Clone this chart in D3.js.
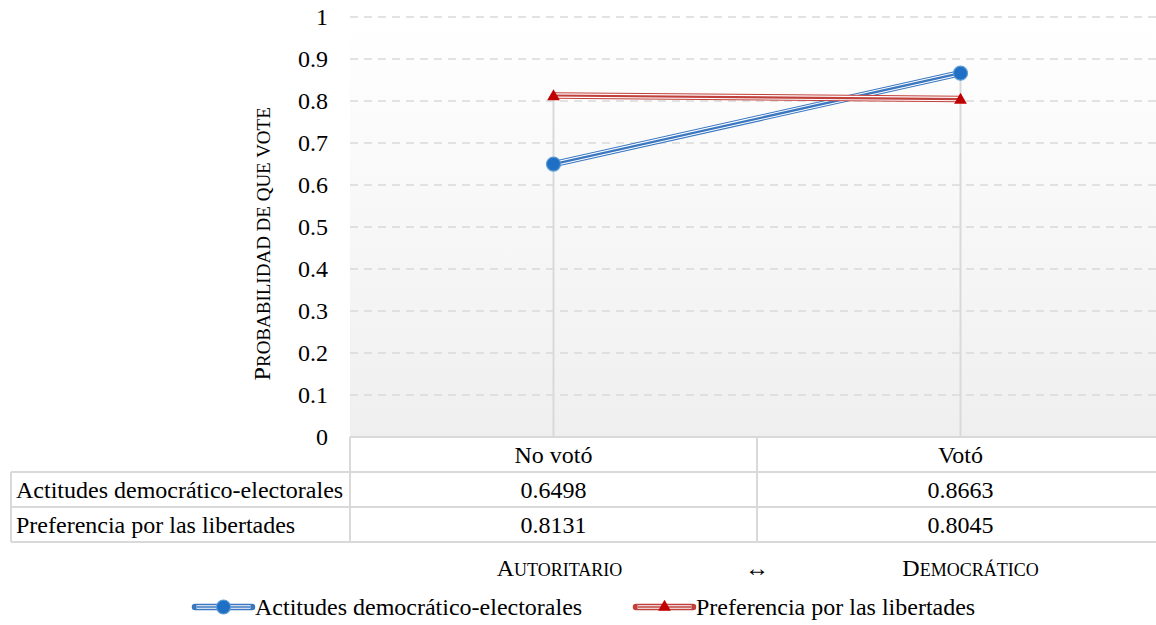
<!DOCTYPE html>
<html>
<head>
<meta charset="utf-8">
<script src="https://cdn.jsdelivr.net/npm/d3@7"></script>
<style>
  html, body { margin: 0; padding: 0; background: #fff; }
  #wrap { position: relative; width: 1156px; height: 625px; }
  #bg { position: absolute; background: linear-gradient(to bottom, #ffffff, #efefef); }
  #chart { position: absolute; left: 0; top: 0; }
  text { font-family: "Liberation Serif"; }
</style>
</head>
<body>
<div id="wrap"><div id="bg"></div><svg id="chart" width="1156" height="625"></svg></div>
<script>
// Voting outcome categories and the two predicted-probability series
const categories = ["No votó", "Votó"];
const seriesNames = ["Actitudes democrático-electorales", "Preferencia por las libertades"];
const actitudes = [0.6498, 0.8663];
const preferencia = [0.8131, 0.8045];
const yTicks = [0, 0.1, 0.2, 0.3, 0.4, 0.5, 0.6, 0.7, 0.8, 0.9, 1];
const tickLabels = ["0", "0.1", "0.2", "0.3", "0.4", "0.5", "0.6", "0.7", "0.8", "0.9", "1"];

const series = [
  { name: seriesNames[0], values: actitudes, line: "#3a77c0", marker: "#1f6fc4", shape: "circle" },
  { name: seriesNames[1], values: preferencia, line: "#c0403c", marker: "#c00000", shape: "triangle" }
];

const SERIF = "Liberation Serif";
const svg = d3.select("#chart");
const plot = { left: 350, right: 1164, top: 17, bottom: 437 };

const x = d3.scaleBand().domain(categories).range([plot.left, plot.right]);
const y = d3.scaleLinear().domain([0, 1]).range([plot.bottom, plot.top]);
const cx = d => x(d) + x.bandwidth() / 2;

// Plot-area background fade sits behind the SVG
d3.select("#bg")
  .style("left", plot.left + "px").style("top", plot.top + "px")
  .style("width", (plot.right - plot.left) + "px").style("height", (plot.bottom - plot.top) + "px");

// Every text gets its font set directly
function label(parent, str, size) {
  return parent.append("text").style("font-family", SERIF).style("font-size", size + "px").attr("fill", "#000").text(str);
}
// Word-style small caps: first letter full size, the rest as smaller capitals
function smallCaps(parent, first, rest, big, small) {
  const t = parent.append("text").style("font-family", SERIF).attr("fill", "#000");
  t.append("tspan").style("font-size", big + "px").text(first);
  t.append("tspan").style("font-size", small + "px").text(rest);
  return t;
}

// Dashed horizontal gridlines
svg.append("g").selectAll("line").data(yTicks.filter(d => d > 0)).join("line")
  .attr("x1", plot.left).attr("x2", plot.right)
  .attr("y1", d => y(d)).attr("y2", d => y(d))
  .attr("stroke", "#d9d9d9").attr("stroke-width", 1.5)
  .attr("stroke-dasharray", "8,6");

// Y axis tick labels
const yAxis = d3.axisLeft(y).tickValues(yTicks).tickFormat((d, i) => tickLabels[i]).tickSize(0).tickPadding(22);
const yg = svg.append("g").attr("transform", `translate(${plot.left},0)`).call(yAxis);
yg.attr("font-family", null).attr("font-size", null);
yg.select(".domain").remove();
yg.selectAll("text")
  .style("font-family", SERIF)
  .style("font-size", "24px").attr("fill", "#000").attr("dy", "0.33em");

// Y axis title
smallCaps(svg, "P", "ROBABILIDAD DE QUE VOTE", 24, 19)
  .attr("transform", `translate(270,${y(0.46)}) rotate(-90)`)
  .attr("text-anchor", "middle");

// Drop lines from the highest point of each category down to the axis
svg.append("g").selectAll("line").data(categories).join("line")
  .attr("x1", d => cx(d)).attr("x2", d => cx(d))
  .attr("y1", (d, i) => y(d3.max(series, s => s.values[i])))
  .attr("y2", y(0))
  .attr("stroke", "#d9d9d9").attr("stroke-width", 2);

const lineGen = d3.line().x(d => cx(d.cat)).y(d => y(d.v));

// Triple-stroke lines (thin / thick / thin)
series.forEach(s => {
  const pts = categories.map((c, i) => ({ cat: c, v: s.values[i] }));
  const g = svg.append("g");
  g.append("path").datum(pts).attr("d", lineGen).attr("fill", "none").attr("stroke", s.line).attr("stroke-width", 6.5);
  g.append("path").datum(pts).attr("d", lineGen).attr("fill", "none").attr("stroke", "#fff").attr("stroke-width", 4.5);
  g.append("path").datum(pts).attr("d", lineGen).attr("fill", "none").attr("stroke", s.line).attr("stroke-width", 2.2);
});

// Markers
const tri = d3.symbol().type(d3.symbolTriangle).size(70);
series.forEach(s => {
  const pts = categories.map((c, i) => ({ cat: c, v: s.values[i] }));
  if (s.shape === "circle") {
    svg.append("g").selectAll("circle").data(pts).join("circle")
      .attr("cx", d => cx(d.cat)).attr("cy", d => y(d.v)).attr("r", 7)
      .attr("fill", s.marker).attr("stroke", "#5b9bd5").attr("stroke-width", 1.2);
  } else {
    svg.append("g").selectAll("path").data(pts).join("path")
      .attr("transform", d => `translate(${cx(d.cat)},${y(d.v) + 1})`)
      .attr("d", tri).attr("fill", s.marker);
  }
});

// Data table beneath the plot
const rowTop = [437, 472, 507, 542];
const tableLeft = 11;
const border = "#d9d9d9";
const tg = svg.append("g");
tg.append("line").attr("x1", plot.left).attr("x2", plot.right).attr("y1", rowTop[0]).attr("y2", rowTop[0]).attr("stroke", border).attr("stroke-width", 2);
rowTop.slice(1).forEach(yy => {
  tg.append("line").attr("x1", tableLeft).attr("x2", plot.right).attr("y1", yy).attr("y2", yy).attr("stroke", border).attr("stroke-width", 2);
});
tg.append("line").attr("x1", tableLeft).attr("x2", tableLeft).attr("y1", rowTop[1]).attr("y2", rowTop[3]).attr("stroke", border).attr("stroke-width", 2);
[plot.left, x(categories[1])].forEach(xx => {
  tg.append("line").attr("x1", xx).attr("x2", xx).attr("y1", rowTop[0]).attr("y2", rowTop[3]).attr("stroke", border).attr("stroke-width", 2);
});
categories.forEach(c => {
  label(tg, c, 24).attr("x", cx(c)).attr("y", (rowTop[0] + rowTop[1]) / 2 + 8).attr("text-anchor", "middle");
});
series.forEach((s, r) => {
  const ym = (rowTop[r + 1] + rowTop[r + 2]) / 2 + 8;
  label(tg, s.name, 24).attr("x", 16).attr("y", ym);
  categories.forEach((c, i) => {
    label(tg, s.values[i].toFixed(4), 24).attr("x", cx(c)).attr("y", ym).attr("text-anchor", "middle");
  });
});

// Axis direction labels
smallCaps(svg, "A", "UTORITARIO", 24, 18).attr("x", cx(categories[0]) + 6).attr("y", 576).attr("text-anchor", "middle");
label(svg, "↔", 24).attr("x", x(categories[1])).attr("y", 576).attr("text-anchor", "middle");
smallCaps(svg, "D", "EMOCRÁTICO", 24, 18).attr("x", cx(categories[1]) + 10).attr("y", 576).attr("text-anchor", "middle");

// Legend
const legendX = [195, 636];
series.forEach((s, i) => {
  const lg = svg.append("g").attr("transform", `translate(${legendX[i]},607)`);
  const ln = d3.line();
  lg.append("path").attr("d", ln([[0, 0], [57, 0]])).attr("stroke", s.line).attr("stroke-width", 6.5).attr("stroke-linecap", "round");
  lg.append("path").attr("d", ln([[1.5, 0], [55.5, 0]])).attr("stroke", "#fff").attr("stroke-width", 3.5);
  lg.append("path").attr("d", ln([[1.5, 0], [55.5, 0]])).attr("stroke", s.line).attr("stroke-width", 1.5);
  if (s.shape === "circle") {
    lg.append("circle").attr("cx", 28.5).attr("cy", 0).attr("r", 7).attr("fill", s.marker).attr("stroke", "#5b9bd5").attr("stroke-width", 1.2);
  } else {
    lg.append("path").attr("transform", "translate(28.5,0)").attr("d", tri).attr("fill", s.marker);
  }
  label(lg, s.name, 24).attr("x", 60).attr("y", 8);
});
</script>
</body>
</html>
